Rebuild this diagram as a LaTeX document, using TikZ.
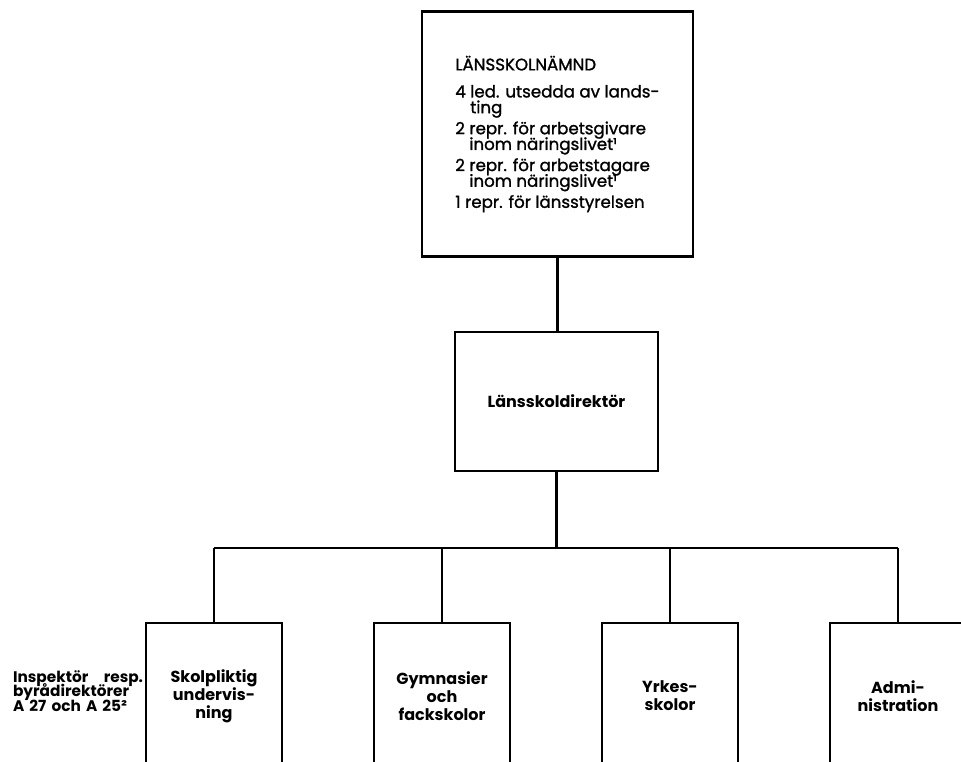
\documentclass[tikz,border=0pt]{standalone}
\usepackage{fontspec}
\setmainfont{Poppins}
\newfontfamily\mellan{Poppins}[FakeBold=1.3]
\usetikzlibrary{calc}

\begin{document}
\begin{tikzpicture}[x=0.75pt,y=-0.75pt,line width=1.6pt,
    ruta/.style={draw,line width=1.6pt,inner sep=0pt,align=center},
    enhet/.style={ruta,minimum width=102pt,minimum height=109.5pt,font=\bfseries\fontsize{12}{13.5}\selectfont\lineskiplimit-20pt\relax}]
  \useasboundingbox (0,0) rectangle (961,761);
  \clip (0,0) rectangle (961,761);
  \node[ruta,minimum width=203.25pt,minimum height=183.75pt,align=left,font=\mellan\fontsize{12.5}{11.8}\selectfont\lineskiplimit-20pt\relax](namnd)at(557.5,134){LÄNSSKOLNÄMND\\[8.5pt]
    4 led. utsedda av lands-\\\hphantom{4 }ting\\[4pt]
    2 repr. för arbetsgivare\\\hphantom{2 }inom näringslivet¹\\[4pt]
    2 repr. för arbetstagare\\\hphantom{2 }inom näringslivet¹\\[4pt]
    1 repr. för länsstyrelsen};
  \node[ruta,minimum width=152.25pt,minimum height=104.25pt,font=\bfseries\fontsize{12}{15}\selectfont](dir)at(556.5,401.5){Länsskoldirektör};
  \node[enhet](skol)at(214,696){Skolpliktig\\undervis-\\ning};
  \node[enhet](gymn)at(442,696){Gymnasier\\och\\fackskolor};
  \node[enhet](yrke)at(670,696){Yrkes-\\skolor};
  \node[enhet](adm)at(898,696){Admi-\\nistration};
  \node[anchor=west,inner sep=0pt,text width=97.5pt,align=left,font=\bfseries\fontsize{11.5}{11}\selectfont\lineskiplimit-20pt\relax](insp)at(12,691){Inspektör\hfill resp.\\byrådirektörer\\A 27 och A 25²};
  \coordinate (v) at (214,548);
  \coordinate (h) at (898,548);
  \draw (namnd.south)--(namnd.south|-dir.north);
  \draw (dir.south)--(dir.south|-v);
  \draw (v)--(h);
  \foreach \n in {skol,gymn,yrke,adm}
    \draw (\n.north)--(\n.north|-v);
\end{tikzpicture}
\end{document}
